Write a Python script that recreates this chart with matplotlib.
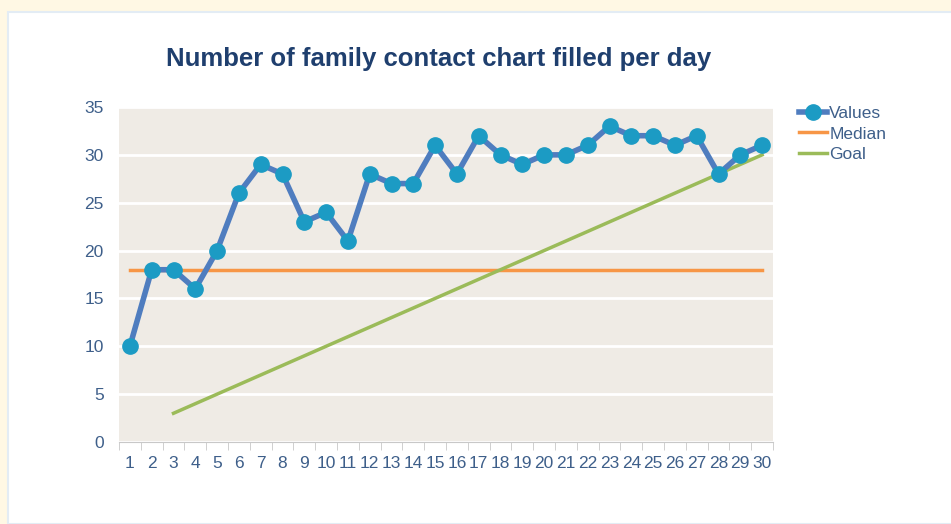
import matplotlib.pyplot as plt
from matplotlib.patches import Rectangle
from matplotlib.lines import Line2D

days = list(range(1, 31))
values = [10, 18, 18, 16, 20, 26, 29, 28, 23, 24, 21, 28, 27, 27, 31,
          28, 32, 30, 29, 30, 30, 31, 33, 32, 32, 31, 32, 28, 30, 31]
median = [18] * 30
goal_days = list(range(3, 31))
goal = [3, 4, 5, 6, 7, 8, 9, 10, 11, 12, 13, 14, 15, 16, 17, 18, 19, 20,
        21, 22, 23, 24, 25, 26, 27, 28, 29, 30]

txt = '#3E5F8A'
plt.rcParams['font.family'] = ['Liberation Sans', 'DejaVu Sans']

fig = plt.figure(figsize=(9.51, 5.24), dpi=100)
fig.patch.set_facecolor('#FFF8E4')
# white panel behind the chart
fig.patches.append(Rectangle((8 / 951, 0), 1, 1 - 12 / 524, transform=fig.transFigure,
                             facecolor='white', edgecolor='#E3ECF4', lw=1.5, zorder=-5))

ax = fig.add_axes([119 / 951, 82 / 524, 654 / 951, 335 / 524])
ax.set_facecolor('#EFEBE5')

ax.plot(days, median, color='#F79646', lw=2.5, zorder=3)
ax.plot(goal_days, goal, color='#9BBB59', lw=2.5, zorder=3)
ax.plot(days, values, color='#4F7DBF', lw=4, marker='o', ms=11,
        markerfacecolor='#1C9BC4', markeredgecolor='#1C9BC4', zorder=4)

ax.set_xlim(0.5, 30.5)
ax.set_ylim(0, 35)
ax.set_yticks(range(0, 36, 5))
ax.set_xticks(days)
ax.yaxis.grid(True, color='white', lw=2)
ax.set_axisbelow(True)
for s in ['top', 'right', 'left']:
    ax.spines[s].set_visible(False)
ax.spines['bottom'].set_color('#C8C8C8')
# tick marks between categories
ax.set_xticks([d + 0.5 for d in range(0, 31)], minor=True)
ax.tick_params(axis='x', which='major', length=0, labelsize=12.5, labelcolor=txt, pad=10)
ax.tick_params(axis='x', which='minor', length=6, color='#C8C8C8')
ax.tick_params(axis='y', length=0, labelsize=12.5, labelcolor=txt, pad=11)

fig.text(0.461, 0.888, 'Number of family contact chart filled per day', ha='center',
         va='center', fontsize=18.5, fontweight='bold', color='#1F3F6E')

handles = [Line2D([], [], color='#4F7DBF', lw=4, marker='o', ms=11,
                  markerfacecolor='#1C9BC4', markeredgecolor='#1C9BC4'),
           Line2D([], [], color='#F79646', lw=2.5),
           Line2D([], [], color='#9BBB59', lw=2.5)]
leg = fig.legend(handles, ['Values', 'Median', 'Goal'], loc='upper left',
                 bbox_to_anchor=(799 / 951, 1 - 106 / 524), frameon=False,
                 fontsize=12.5, handlelength=1.6, handletextpad=0.15, labelspacing=0.3,
                 borderpad=0, borderaxespad=0)
for t in leg.get_texts():
    t.set_color(txt)

fig.savefig('out.png', dpi=100)
